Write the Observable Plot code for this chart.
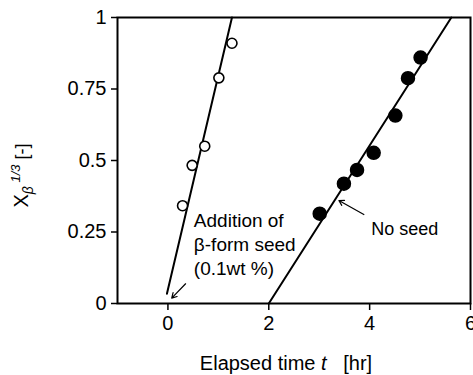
<!DOCTYPE html>
<html>
<head>
<meta charset="utf-8">
<script src="https://cdn.jsdelivr.net/npm/d3@7"></script>
<script src="https://cdn.jsdelivr.net/npm/@observablehq/plot@0.6"></script>
<style>
  html, body { margin: 0; padding: 0; background: white; overflow: hidden; }
  #chart { width: 473px; height: 375px; }
</style>
</head>
<body>
<div id="chart"></div>
<script>
// ---- Data ----
const seedTime = [0.29, 0.48, 0.73, 1.01, 1.27];
const seedX    = [0.342, 0.483, 0.55, 0.789, 0.91];
const noSeedTime = [3.01, 3.49, 3.75, 4.08, 4.51, 4.76, 5.01];
const noSeedX    = [0.314, 0.419, 0.467, 0.527, 0.657, 0.788, 0.86];

// fitted lines (end points)
const seedLineT = [-0.02, 1.27];
const seedLineX = [0.034, 1.0];
const noSeedLineT = [2.0, 5.62];
const noSeedLineX = [0.0, 1.0];

// tick values
const xTicks = [0, 2, 4, 6];
const yTicks = [0, 0.25, 0.5, 0.75, 1];

// annotations
const seedNote = "Addition of\nβ-form seed\n(0.1wt %)";
const seedNoteAt = [0.514, 0.098];
const seedArrow = [0.35, 0.069, 0.075, 0.019];
const noSeedNote = "No seed";
const noSeedNoteAt = [4.03, 0.241];
const noSeedArrow = [3.885, 0.311, 3.39, 0.36];

const seedPts = seedTime.map((t, i) => ({t, x: seedX[i]}));
const noSeedPts = noSeedTime.map((t, i) => ({t, x: noSeedX[i]}));
const seedLine = seedLineT.map((t, i) => ({t, x: seedLineX[i]}));
const noSeedLine = noSeedLineT.map((t, i) => ({t, x: noSeedLineX[i]}));

const font = "'Liberation Sans', Arial, Helvetica, sans-serif";

const chart = Plot.plot({
  width: 473,
  height: 375,
  marginLeft: 117,
  marginRight: 3,
  marginTop: 17,
  marginBottom: 72,
  style: {fontFamily: font, fontSize: "20px", color: "black", background: "white"},
  x: {domain: [-1, 6], label: null},
  y: {domain: [0, 1], label: null},
  marks: [
    Plot.axisX({ticks: xTicks, tickSize: 7, tickPadding: 5, fontSize: 20, label: null, strokeWidth: 1.5, tickFormat: d => String(d)}),
    Plot.axisY({ticks: yTicks, tickSize: 6, tickPadding: 5, fontSize: 20, label: null, strokeWidth: 1.5, tickFormat: d => String(d)}),
    Plot.frame({stroke: "black", strokeWidth: 2}),
    Plot.line(seedLine, {x: "t", y: "x", stroke: "black", strokeWidth: 2}),
    Plot.line(noSeedLine, {x: "t", y: "x", stroke: "black", strokeWidth: 2}),
    Plot.dot(seedPts, {x: "t", y: "x", r: 5, fill: "white", stroke: "black", strokeWidth: 1.6}),
    Plot.dot(noSeedPts, {x: "t", y: "x", r: 6.5, fill: "black", stroke: "black"}),
    Plot.arrow([seedArrow], {x1: d => d[0], y1: d => d[1], x2: d => d[2], y2: d => d[3], stroke: "black", strokeWidth: 1.2, headLength: 7}),
    Plot.arrow([noSeedArrow], {x1: d => d[0], y1: d => d[1], x2: d => d[2], y2: d => d[3], stroke: "black", strokeWidth: 1.2, headLength: 7}),
    Plot.text([seedNote], {x: () => seedNoteAt[0], y: () => seedNoteAt[1], text: d => d, textAnchor: "start", lineAnchor: "bottom", lineHeight: 1.27, fontSize: 19, fill: "black"}),
    Plot.text([noSeedNote], {x: () => noSeedNoteAt[0], y: () => noSeedNoteAt[1], text: d => d, textAnchor: "start", lineAnchor: "bottom", fontSize: 18, fill: "black"})
  ]
});

document.getElementById("chart").appendChild(chart);

// axis titles with rich formatting
const svg = d3.select(chart);
const xl = svg.append("text")
  .attr("x", 286).attr("y", 370)
  .attr("text-anchor", "middle")
  .attr("font-family", font).attr("font-size", 20).attr("fill", "black")
  .style("white-space", "pre");
xl.append("tspan").text("Elapsed time ");
xl.append("tspan").attr("font-style", "italic").text("t");
xl.append("tspan").text("   [hr]");

const yl = svg.append("text")
  .attr("transform", "translate(28,175.5) rotate(-90)")
  .attr("text-anchor", "middle")
  .attr("font-family", font).attr("font-size", 20).attr("fill", "black")
  .style("white-space", "pre");
yl.append("tspan").text("X");
yl.append("tspan").attr("dy", 5).attr("font-size", 14).attr("font-style", "italic").text("β");
yl.append("tspan").attr("dy", -13).attr("font-size", 13).attr("font-style", "italic").text(" 1/3");
yl.append("tspan").attr("dy", 8).attr("font-size", 18).text(" [-]");
</script>
</body>
</html>
